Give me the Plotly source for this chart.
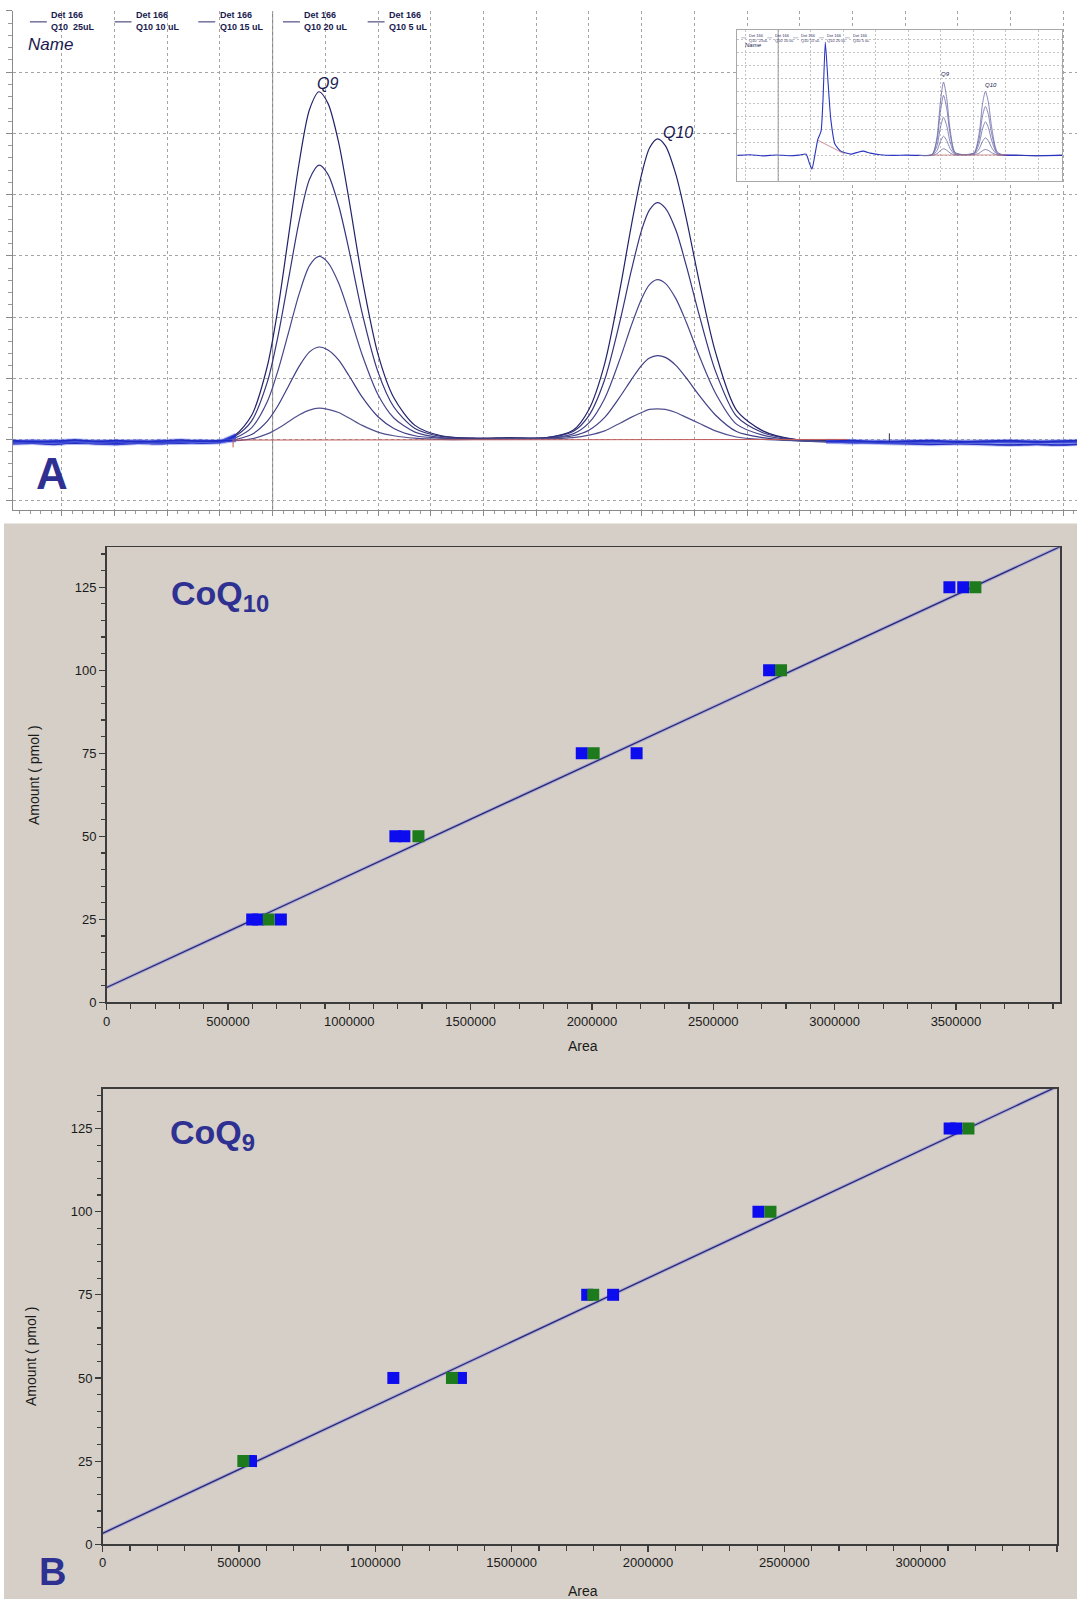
import plotly.graph_objects as go

W, H = 1077, 1607
FONT = "Liberation Sans, Arial, sans-serif"
TICK_FONT = "Liberation Sans Narrow, Arial Narrow, Liberation Sans, Arial, sans-serif"
NAVY_TXT = "#2e3192"

# ---------------- Panel A : chromatogram (arbitrary time / response units) ----------------
t = [0.07, 0.45, 0.85, 1.25, 1.65, 2.05, 2.45, 2.85, 3.25, 3.65, 4.0,
     4.3, 4.6, 4.9, 5.1, 5.3, 5.5, 5.7, 5.88, 6.05, 6.25, 6.45, 6.7, 7.0, 7.3, 7.7, 8.2,
     8.8, 9.5, 10.2, 10.7,
     11.0, 11.3, 11.6, 11.8, 12.0, 12.15, 12.3, 12.45, 12.65, 12.85, 13.1, 13.4, 13.8, 14.3, 14.9,
     15.5, 16.0, 16.5, 17.0, 17.5, 18.0, 18.5, 19.0, 19.5, 19.9, 20.26]

sig_25uL = [0.97, 0.95, 0.98, 0.96, 0.94, 0.97, 0.95, 0.98, 0.96, 0.95, 0.97,
            1.08, 1.39, 2.20, 3.13, 4.31, 5.50, 6.39, 6.68, 6.49, 5.86, 4.91, 3.62, 2.39, 1.68, 1.23, 1.06,
            1.02, 1.03, 1.03, 1.15,
            1.49, 2.24, 3.50, 4.47, 5.33, 5.76, 5.91, 5.80, 5.33, 4.60, 3.55, 2.43, 1.48, 1.14, 1.00,
            0.98, 0.97, 0.96, 0.97, 0.95, 0.96, 0.97, 0.95, 0.96, 0.97, 0.96]
sig_20uL = [0.95, 0.97, 0.95, 0.98, 0.96, 0.94, 0.97, 0.95, 0.97, 0.98, 0.96,
            1.06, 1.30, 1.94, 2.68, 3.61, 4.55, 5.25, 5.48, 5.33, 4.83, 4.09, 3.06, 2.10, 1.53, 1.18, 1.05,
            1.02, 1.02, 1.03, 1.13,
            1.39, 1.98, 2.97, 3.74, 4.42, 4.75, 4.87, 4.78, 4.42, 3.83, 3.01, 2.12, 1.38, 1.11, 1.00,
            0.97, 0.95, 0.97, 0.96, 0.97, 0.95, 0.96, 0.97, 0.95, 0.96, 0.97]
sig_15uL = [0.96, 0.98, 0.96, 0.94, 0.97, 0.96, 0.98, 0.95, 0.94, 0.97, 0.96,
            1.03, 1.19, 1.62, 2.12, 2.74, 3.37, 3.84, 3.99, 3.89, 3.56, 3.06, 2.38, 1.73, 1.35, 1.12, 1.03,
            1.01, 1.02, 1.02, 1.09,
            1.27, 1.67, 2.34, 2.85, 3.30, 3.53, 3.61, 3.55, 3.30, 2.91, 2.35, 1.76, 1.25, 1.07, 0.99,
            0.96, 0.97, 0.95, 0.94, 0.96, 0.97, 0.95, 0.96, 0.97, 0.95, 0.96]
sig_10uL = [0.93, 0.94, 0.92, 0.95, 0.93, 0.92, 0.94, 0.93, 0.95, 0.94, 0.95,
            1.00, 1.08, 1.30, 1.55, 1.87, 2.19, 2.43, 2.51, 2.46, 2.30, 2.04, 1.69, 1.37, 1.18, 1.06, 1.02,
            1.01, 1.01, 1.02, 1.06,
            1.15, 1.36, 1.71, 1.97, 2.21, 2.33, 2.37, 2.34, 2.21, 2.00, 1.71, 1.40, 1.13, 1.03, 0.98,
            0.96, 0.95, 0.94, 0.93, 0.92, 0.93, 0.92, 0.91, 0.92, 0.91, 0.92]
sig_5uL = [0.98, 0.96, 0.97, 0.99, 0.97, 0.98, 0.96, 0.97, 0.99, 0.97, 0.98,
           0.98, 1.01, 1.09, 1.18, 1.29, 1.40, 1.48, 1.51, 1.49, 1.44, 1.35, 1.23, 1.12, 1.06, 1.02, 1.00,
           1.00, 1.01, 1.01, 1.03,
           1.07, 1.14, 1.27, 1.36, 1.44, 1.49, 1.50, 1.49, 1.44, 1.36, 1.26, 1.14, 1.04, 1.00, 0.98,
           0.97, 0.98, 0.96, 0.97, 0.98, 0.96, 0.97, 0.98, 0.96, 0.97, 0.98]

legend_names = ["Q10  25uL", "Q10 10 uL", "Q10 15 uL", "Q10 20 uL", "Q10 5 uL"]
legend_signals = [sig_25uL, sig_10uL, sig_15uL, sig_20uL, sig_5uL]
curve_colors = ["#22226a", "#3e3e86", "#45458a", "#34347c", "#50508f"]

red_base_t = [4.25, 15.9]
red_base_y = [0.99, 1.0]

# ---------------- Inset (overview chromatogram) ----------------
ins_main_t = [0, 4, 8, 12, 16, 19, 21.2, 22.2, 23.0, 23.8, 24.8, 25.8, 26.4, 27.1, 27.9, 28.8,
              30.1, 31.9, 35, 37, 38.7, 41, 44, 48, 52, 56]
ins_main_y = [17, 17.4, 16.7, 17.3, 16.8, 17.2, 17.8, 12, 7.9, 16, 27.6, 33, 54, 92, 67, 40.8,
              24.3, 19.7, 17.8, 19, 19.8, 18.5, 17.4, 17.0, 17.2, 17.0]
ins_t = [56, 60, 61.5, 62.5, 63.5, 64.5, 65.5, 67, 69, 71, 73, 74.5, 75.5, 76.4, 77.3, 78.3, 80, 82, 86, 92, 100]
ins_25 = [17.0, 17.7, 29.1, 51.4, 65.5, 54.6, 34.5, 19.1, 17.6, 17.6, 18.9, 31.9, 50.9, 59.3, 52.3, 36.0, 19.4, 17.2, 17.0, 16.8, 17.0]
ins_20 = [17.0, 17.6, 26.9, 45.2, 56.7, 47.8, 31.3, 18.7, 17.6, 17.6, 18.6, 28.4, 43.1, 49.4, 44.1, 31.6, 18.8, 17.2, 17.0, 16.8, 17.0]
ins_15 = [17.0, 17.4, 23.3, 34.9, 42.2, 36.5, 26.1, 18.1, 17.5, 17.5, 18.2, 25.0, 34.5, 39.2, 35.5, 27.0, 18.2, 17.1, 17.0, 16.9, 17.0]
ins_10 = [17.0, 17.2, 20.2, 26.0, 29.7, 26.8, 21.6, 17.6, 17.4, 17.4, 17.8, 21.4, 26.2, 28.6, 26.7, 22.2, 17.6, 17.1, 17.0, 16.9, 17.0]
ins_5 = [17.0, 17.1, 18.1, 20.1, 21.4, 20.4, 18.6, 17.2, 17.3, 17.3, 17.4, 18.5, 20.1, 20.9, 20.3, 18.8, 17.2, 17.0, 17.0, 16.9, 17.0]
ins_red1_t, ins_red1_y = [24.8, 33.0], [27.0, 18.0]
ins_red2_t, ins_red2_y = [59.5, 83.0], [17.2, 17.3]

# ---------------- Panel B : calibration curves ----------------
coq10_blue_area = [600000, 625000, 718000, 1190000, 1227000, 1958000, 2184000, 2730000, 3473000, 3530000]
coq10_blue_amt = [25, 25, 25, 50, 50, 75, 75, 100, 125, 125]
coq10_green_area = [668000, 1285000, 2007000, 2779000, 3580000]
coq10_green_amt = [25, 50, 75, 100, 125]
coq10_slope, coq10_intercept = 3.376e-5, 4.5
coq10_xmax = 3929000

coq9_blue_area = [544000, 1066000, 1314000, 1777000, 1872000, 2405000, 3106000, 3131000]
coq9_blue_amt = [25, 50, 50, 75, 75, 100, 125, 125]
coq9_green_area = [516000, 1281000, 1799000, 2449000, 3175000]
coq9_green_amt = [25, 50, 75, 100, 125]
coq9_slope, coq9_intercept = 3.837e-5, 3.3
coq9_xmax = 3500000

amount_max = 137


def px(x):
    return x / W


def py(y):
    return 1 - y / H


fig = go.Figure()

# ---- Panel A traces ----
for sig, col in zip(legend_signals, curve_colors):
    fig.add_trace(go.Scatter(x=t, y=sig, mode="lines", xaxis="x", yaxis="y",
                             line=dict(color=col, width=1.2, shape="spline", smoothing=0.8),
                             hoverinfo="skip"))
for sig in legend_signals:
    for xs, ys in [(t[:12], sig[:12]), (t[-11:], sig[-11:])]:
        fig.add_trace(go.Scatter(x=xs, y=ys, mode="lines", xaxis="x", yaxis="y",
                                 line=dict(color="rgba(110,120,230,0.35)", width=4,
                                           shape="spline", smoothing=0.6), hoverinfo="skip"))
        fig.add_trace(go.Scatter(x=xs, y=ys, mode="lines", xaxis="x", yaxis="y",
                                 line=dict(color="#1f2cc8", width=1.6, shape="spline", smoothing=0.6),
                                 hoverinfo="skip"))
fig.add_trace(go.Scatter(x=red_base_t, y=red_base_y, mode="lines", xaxis="x", yaxis="y",
                         line=dict(color="#c05a5a", width=1), hoverinfo="skip"))

# ---- Inset traces ----
fig.add_trace(go.Scatter(x=ins_main_t, y=ins_main_y, mode="lines", xaxis="x4", yaxis="y4",
                         line=dict(color="#2a34c0", width=1.1, shape="spline", smoothing=0.5),
                         hoverinfo="skip"))
for ys in [ins_25, ins_20, ins_15, ins_10, ins_5]:
    fig.add_trace(go.Scatter(x=ins_t, y=ys, mode="lines", xaxis="x4", yaxis="y4",
                             line=dict(color="#6a6aa8", width=0.8, shape="spline", smoothing=0.7),
                             hoverinfo="skip"))
fig.add_trace(go.Scatter(x=ins_t[-4:], y=ins_25[-4:], mode="lines", xaxis="x4", yaxis="y4",
                         line=dict(color="#2a34c0", width=1.1), hoverinfo="skip"))
for rx, ry in [(ins_red1_t, ins_red1_y), (ins_red2_t, ins_red2_y)]:
    fig.add_trace(go.Scatter(x=rx, y=ry, mode="lines", xaxis="x4", yaxis="y4",
                             line=dict(color="#c87a7a", width=0.8), hoverinfo="skip"))


# ---- Panel B traces ----
def add_cal(xa, ya, slope, intercept, xmax, bx, by, gx, gy):
    lx = [0, xmax]
    ly = [intercept + slope * v for v in lx]
    fig.add_trace(go.Scatter(x=lx, y=ly, mode="lines", xaxis=xa, yaxis=ya,
                             line=dict(color="rgba(140,140,230,0.55)", width=3.5), hoverinfo="skip"))
    fig.add_trace(go.Scatter(x=lx, y=ly, mode="lines", xaxis=xa, yaxis=ya,
                             line=dict(color="#26266e", width=1.3), hoverinfo="skip"))
    fig.add_trace(go.Scatter(x=bx, y=by, mode="markers", xaxis=xa, yaxis=ya,
                             marker=dict(symbol="square", size=12, color="#0c0cee",
                                         line=dict(width=0)), hoverinfo="skip"))
    fig.add_trace(go.Scatter(x=gx, y=gy, mode="markers", xaxis=xa, yaxis=ya,
                             marker=dict(symbol="square", size=12, color="#1d7a1d",
                                         line=dict(width=0)), hoverinfo="skip"))


add_cal("x2", "y2", coq10_slope, coq10_intercept, coq10_xmax,
        coq10_blue_area, coq10_blue_amt, coq10_green_area, coq10_green_amt)
add_cal("x3", "y3", coq9_slope, coq9_intercept, coq9_xmax,
        coq9_blue_area, coq9_blue_amt, coq9_green_area, coq9_green_amt)

# ---------------- Layout ----------------
grid_a = dict(showgrid=True, gridcolor="#a4a4a4", griddash="3px,3px", gridwidth=1,
              zeroline=False, showticklabels=False, ticks="outside", tickcolor="#8a8a8a",
              showline=True, linecolor="#8a8a8a", linewidth=1)

cal_axis = dict(showgrid=False, zeroline=False, showline=True, mirror=True,
                linecolor="#3c3c3c", linewidth=1.5, ticks="outside", ticklen=6,
                tickcolor="#3c3c3c", tickwidth=1.2,
                tickfont=dict(family=TICK_FONT, size=13, color="#1a1a1a"))

layout = dict(
    width=W, height=H, autosize=False, showlegend=False,
    margin=dict(l=0, r=0, t=0, b=0),
    paper_bgcolor="white", plot_bgcolor="rgba(0,0,0,0)",
    xaxis=dict(domain=[px(9), 1.0], range=[0.074, 20.26], anchor="y", dtick=1, tick0=0,
               ticklen=5, minor=dict(dtick=0.2, ticks="outside", ticklen=3, tickcolor="#9a9a9a",
                                     showgrid=False), **grid_a),
    yaxis=dict(domain=[py(513), py(11)], range=[-0.16, 8.0], anchor="x", dtick=1, tick0=0,
               ticklen=6, minor=dict(dtick=0.2, ticks="outside", ticklen=4, tickcolor="#9a9a9a",
                                     showgrid=False), **grid_a),
    xaxis2=dict(domain=[px(103), px(1060)], range=[0, coq10_xmax], anchor="y2",
                tick0=0, dtick=500000, tickformat="d",
                minor=dict(dtick=100000, ticks="outside", ticklen=5, tickcolor="#3c3c3c"), **cal_axis),
    yaxis2=dict(domain=[py(1007.5), py(550)], range=[0, amount_max], anchor="x2",
                tick0=0, dtick=25,
                minor=dict(dtick=5, ticks="outside", ticklen=4, tickcolor="#3c3c3c"), **cal_axis),
    xaxis3=dict(domain=[px(99), px(1057)], range=[0, coq9_xmax], anchor="y3",
                tick0=0, dtick=500000, tickformat="d",
                minor=dict(dtick=100000, ticks="outside", ticklen=5, tickcolor="#3c3c3c"), **cal_axis),
    yaxis3=dict(domain=[py(1552), py(1094)], range=[0, amount_max], anchor="x3",
                tick0=0, dtick=25,
                minor=dict(dtick=5, ticks="outside", ticklen=4, tickcolor="#3c3c3c"), **cal_axis),
    xaxis4=dict(domain=[px(736), px(1062)], range=[0, 100], anchor="y4",
                showgrid=True, gridcolor="#c4c4c4", griddash="2px,2px", tick0=2.6, dtick=10,
                zeroline=False, showticklabels=False, ticks="", showline=True, mirror=True,
                linecolor="#a8a8a8", linewidth=1),
    yaxis4=dict(domain=[py(182), py(30)], range=[0, 100], anchor="x4",
                showgrid=True, gridcolor="#c4c4c4", griddash="2px,2px", tick0=0, dtick=8.5,
                zeroline=False, showticklabels=False, ticks="", showline=True, mirror=True,
                linecolor="#a8a8a8", linewidth=1),
)

shapes = [
    dict(type="rect", xref="paper", yref="paper", x0=0, x1=1, y0=0, y1=py(526),
         fillcolor="#d5cfc7", line=dict(width=0), layer="below"),
    dict(type="rect", xref="x4", yref="y4", x0=0, x1=100, y0=0, y1=100,
         fillcolor="white", line=dict(width=0), layer="below"),
    dict(type="line", xref="x4", yref="y4", x0=12.6, x1=12.6, y0=0, y1=100,
         line=dict(color="#9a9a9a", width=1), layer="above"),
    dict(type="line", xref="x", yref="y", x0=5, x1=5, y0=-0.16, y1=8.0,
         line=dict(color="#7a7a7a", width=1), layer="below"),
    dict(type="line", xref="x", yref="y", x0=4.25, x1=4.25, y0=0.87, y1=1.0,
         line=dict(color="#c05a5a", width=1), layer="above"),
    dict(type="line", xref="x", yref="y", x0=16.7, x1=16.7, y0=0.97, y1=1.10,
         line=dict(color="#303050", width=1), layer="above"),
]

annotations = []


def note(x, y, text, size, color="#1a1a50", xanchor="center", yanchor="middle",
         xref="paper", yref="paper", **kw):
    annotations.append(dict(xref=xref, yref=yref, x=x, y=y, text=text, showarrow=False,
                            xanchor=xanchor, yanchor=yanchor,
                            font=dict(family=FONT, size=size, color=color), **kw))


# Panel A legend
leg_line_x = [26, 111, 195, 280, 365]
leg_text_x = [45, 130, 215, 299, 384]
for lx, tx, name in zip(leg_line_x, leg_text_x, legend_names):
    shapes.append(dict(type="line", xref="paper", yref="paper", x0=px(lx), x1=px(lx + 17),
                       y0=py(22), y1=py(22), line=dict(color="#2a2a6a", width=1)))
    note(px(tx), py(21.5), "<b>Det 166<br>%s</b>" % name, 9, xanchor="left", align="left")
note(px(22), py(45), "<i>Name</i>", 17, xanchor="left")
note(6.05, 6.82, "<i>Q9</i>", 16, xref="x", yref="y")
note(12.70, 6.02, "<i>Q10</i>", 16, xref="x", yref="y")
note(px(48), py(476), "<b>A</b>", 44, color=NAVY_TXT)

# Inset labels
ins_leg_x = [740, 766, 792, 818, 844]
for lx, name in zip(ins_leg_x, legend_names):
    shapes.append(dict(type="line", xref="paper", yref="paper", x0=px(lx), x1=px(lx + 5),
                       y0=py(38), y1=py(38), line=dict(color="#8888aa", width=0.6)))
    note(px(lx + 6), py(38), "Det 166<br>%s" % name, 4, color="#333366", xanchor="left",
         align="left")
note(px(742), py(45), "<i>Name</i>", 6, xanchor="left")
note(64.0, 70.5, "<i>Q9</i>", 6, xref="x4", yref="y4")
note(78.0, 63.5, "<i>Q10</i>", 6, xref="x4", yref="y4")

# Panel B labels
note(px(166), py(598), "<b>CoQ<sub>10</sub></b>", 34, color=NAVY_TXT, xanchor="left")
note(px(165), py(1140), "<b>CoQ<sub>9</sub></b>", 34, color=NAVY_TXT, xanchor="left")
note(px(581), py(1051), "Area", 14, color="#1a1a1a")
note(px(581), py(1599), "Area", 14, color="#1a1a1a")
note(px(30), py(779), "Amount ( pmol )", 14, color="#1a1a1a", textangle=-90)
note(px(27), py(1363), "Amount ( pmol )", 14, color="#1a1a1a", textangle=-90)
note(px(49), py(1580), "<b>B</b>", 38, color=NAVY_TXT)

layout["shapes"] = shapes
layout["annotations"] = annotations
fig.update_layout(**layout)

fig.write_html("out.html",
               config={"displayModeBar": False, "staticPlot": True},
               post_script="document.body.style.margin='0px';"
                           "document.body.style.padding='0px';"
                           "document.body.style.overflow='hidden';")
